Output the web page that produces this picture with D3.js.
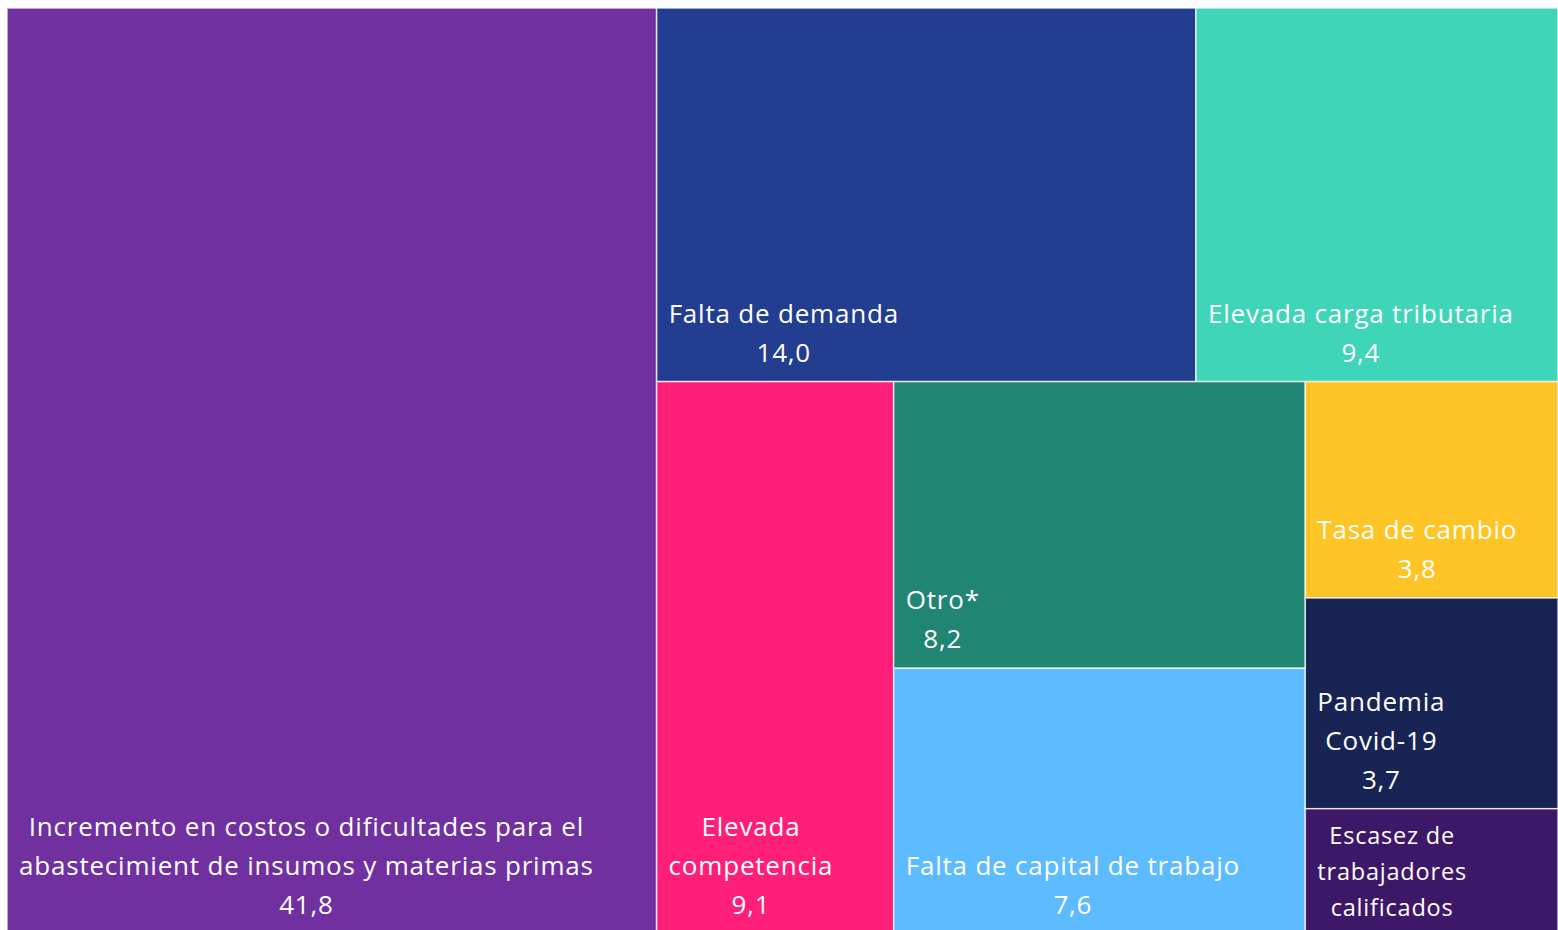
<!DOCTYPE html>
<html>
<head>
<meta charset="utf-8">
<script src="https://cdn.jsdelivr.net/npm/d3@7"></script>
<style>
  body { margin: 0; background: #ffffff; }
  svg text { font-family: "Open Sans", Lato, sans-serif; fill: #ffffff; letter-spacing: 0.8px; }
</style>
</head>
<body>
<svg id="chart" width="1558" height="930"></svg>
<script>
// Chart data: main obstacles (percent)
const categories = [
    "Incremento en costos o dificultades para el abastecimient de insumos y materias primas",
    "Falta de demanda",
    "Elevada carga tributaria",
    "Elevada competencia",
    "Otro*",
    "Falta de capital de trabajo",
    "Tasa de cambio",
    "Pandemia Covid-19",
    "Escasez de trabajadores calificados"
];

// Line breaks used in the labels
const labelLines = [
    ["Incremento en costos o dificultades para el", "abastecimient de insumos y materias primas"],
    ["Falta de demanda"],
    ["Elevada carga tributaria"],
    ["Elevada", "competencia"],
    ["Otro*"],
    ["Falta de capital de trabajo"],
    ["Tasa de cambio"],
    ["Pandemia", "Covid-19"],
    ["Escasez de", "trabajadores", "calificados"]
];

const values = [41.8, 14.0, 9.4, 9.1, 8.2, 7.6, 3.8, 3.7, 2.2];

// the last tile shows no value in its label
const showValue = [true, true, true, true, true, true, true, true, false];

const colors = [
    "#7030a0", "#233e91", "#3fd5b8", "#ff1f79", "#208572",
    "#5dbbff", "#ffc425", "#172454", "#3e1868"
];

const margin = { top: 8, left: 7 };
const width = 1551;
const height = 926;

const fmt = d3.formatLocale({ decimal: ",", thousands: ".", grouping: [3], currency: ["", ""] }).format(".1f");

// Squarified tiling like d3.treemapSquarify, but allowing a target ratio below 1
// (d3 clamps it to >= 1); this reproduces the Excel arrangement of the tiles.
function squarifyLoose(ratio) {
    return function(parent, x0, y0, x1, y1) {
        const nodes = parent.children;
        const n = nodes.length;
        let value = parent.value, i0 = 0, i1 = 0;

        while (i0 < n) {
            const dx = x1 - x0, dy = y1 - y0;
            let sumValue = nodes[i1++].value;
            let minValue = sumValue, maxValue = sumValue;
            const alpha = Math.max(dy / dx, dx / dy) / (value * ratio);
            let beta = sumValue * sumValue * alpha;
            let minRatio = Math.max(maxValue / beta, beta / minValue);

            for (; i1 < n; ++i1) {
                const nodeValue = nodes[i1].value;
                sumValue += nodeValue;
                const lo = Math.min(minValue, nodeValue), hi = Math.max(maxValue, nodeValue);
                beta = sumValue * sumValue * alpha;
                const newRatio = Math.max(hi / beta, beta / lo);
                if (newRatio > minRatio) { sumValue -= nodeValue; break; }
                minRatio = newRatio; minValue = lo; maxValue = hi;
            }

            const row = { value: sumValue, children: nodes.slice(i0, i1) };
            if (dx < dy) d3.treemapDice(row, x0, y0, x1, dy ? y0 += dy * sumValue / value : y1);
            else d3.treemapSlice(row, x0, y0, dx ? x0 += dx * sumValue / value : x1, y1);
            value -= sumValue;
            i0 = i1;
        }
    };
}

const svg = d3.select("#chart");
const g = svg.append("g").attr("transform", `translate(${margin.left},${margin.top})`);

// Build hierarchy and lay it out
const root = d3.hierarchy({ children: categories.map((c, i) => ({ name: c, value: values[i], idx: i })) })
    .sum(d => d.value || 0)
    .sort((a, b) => b.value - a.value);

d3.treemap()
    .tile(squarifyLoose(0.815))
    .size([width, height])(root);

const leaves = root.leaves();

// Tiles
g.selectAll("rect.tile")
    .data(leaves)
    .enter().append("rect")
    .attr("class", "tile")
    .attr("x", d => d.x0)
    .attr("y", d => d.y0)
    .attr("width", d => d.x1 - d.x0)
    .attr("height", d => d.y1 - d.y0)
    .attr("fill", d => colors[d.data.idx])
    .attr("stroke", "rgba(255,255,255,0.75)")
    .attr("stroke-width", 1.5);

// Labels: text block anchored at the bottom-left of each tile, lines centred in the block
leaves.forEach(d => {
    const i = d.data.idx;
    const lines = labelLines[i].slice();
    if (showValue[i]) lines.push(fmt(values[i]));

    let fontSize = 26, lineH = 39, bottomOff = 29;
    if (lines.length * lineH + 12 > d.y1 - d.y0) {
        fontSize = 23.5; lineH = 36; bottomOff = 26;
    }

    const lab = g.append("g").attr("class", "label");
    const text = lab.append("text")
        .attr("text-anchor", "middle")
        .style("font-size", fontSize + "px");

    lines.forEach((t, k) => {
        text.append("tspan")
            .attr("x", 0)
            .attr("y", d.y1 - bottomOff - (lines.length - 1 - k) * lineH)
            .attr("dy", "0.35em")
            .text(t);
    });

    const box = text.node().getBBox();
    lab.attr("transform", `translate(${d.x0 + 12 - box.x},0)`);
});
</script>
</body>
</html>
